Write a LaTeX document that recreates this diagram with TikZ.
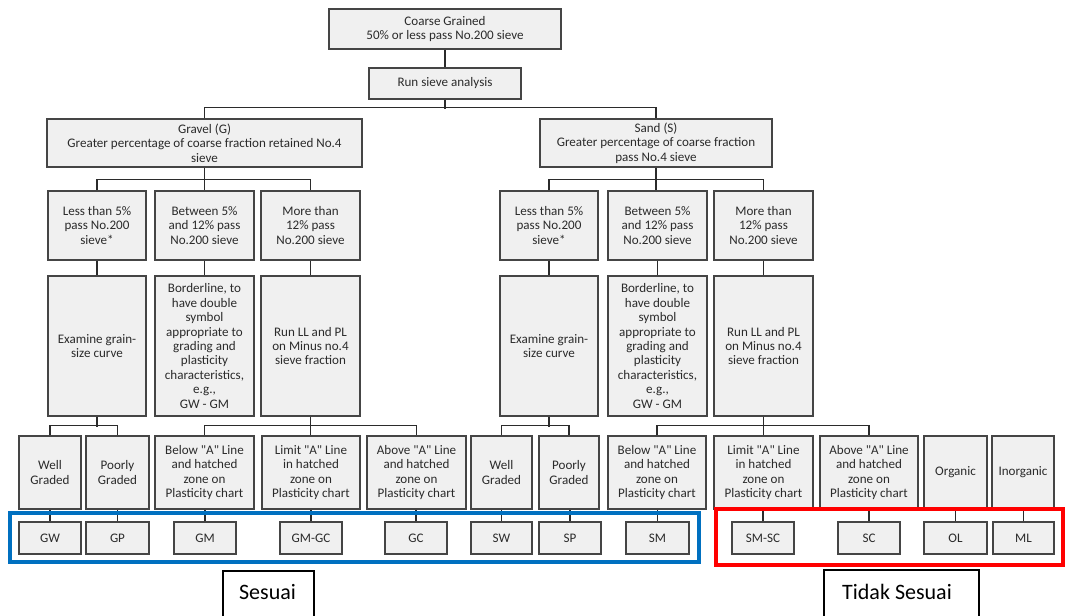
\documentclass[tikz,border=0pt]{standalone}
\usepackage{fontspec}
\setmainfont[Ligatures=TeXOff]{Carlito}
\definecolor{boxfill}{HTML}{F0F0F0}
\definecolor{boxline}{HTML}{454545}
\definecolor{txt}{HTML}{2B2B2B}
\definecolor{okblue}{HTML}{0070C0}
\definecolor{nored}{HTML}{FF0000}
\tikzset{
  box/.style={draw=boxline, fill=boxfill, line width=0.8pt, inner sep=1pt,
    align=center, text=txt, font=\fontsize{9.8}{10.8}\selectfont},
  conn/.style={draw=txt, line width=0.9pt},
  frameblue/.style={draw=okblue, line width=3pt},
  framered/.style={draw=nored, line width=3pt},
  tag/.style={font=\fontsize{16.5}{19}\selectfont, text=black, inner sep=0pt},
  tagline/.style={draw=black, line width=0.8pt}
}
\newcommand{\mybox}[6]{\node[box, minimum width={(#4-#2)*0.75pt}, minimum height={(#5-#3)*0.75pt}] (#1) at ({(#2+#4)/2},{(#3+#5)/2}) {#6};}
\begin{document}
\begin{tikzpicture}[x=0.75pt,y=-0.75pt]
\useasboundingbox[fill=white] (0,0) rectangle (1066,616);
% top
\mybox{cg}{329}{9}{561}{49}{Coarse Grained\\50\% or less pass No.200 sieve}
\mybox{rsa}{369}{68}{521}{99}{Run sieve analysis}
\mybox{gravel}{47}{119}{362}{167}{Gravel (G)\\Greater percentage of coarse fraction retained No.4\\sieve}
\mybox{sand}{540}{119}{772}{167}{Sand (S)\\Greater percentage of coarse fraction\\pass No.4 sieve}
% row 1
\mybox{lessG}{48}{191}{146}{260}{Less than 5\%\\pass No.200\\sieve*}
\mybox{betG}{155}{191}{254}{260}{Between 5\%\\and 12\% pass\\No.200 sieve}
\mybox{moreG}{261}{191}{360}{260}{More than\\12\% pass\\No.200 sieve}
\mybox{lessS}{500}{191}{598}{260}{Less than 5\%\\pass No.200\\sieve*}
\mybox{betS}{608}{191}{707}{260}{Between 5\%\\and 12\% pass\\No.200 sieve}
\mybox{moreS}{714}{191}{813}{260}{More than\\12\% pass\\No.200 sieve}
% row 2
\mybox{exG}{48}{276}{146}{416}{Examine grain-\\size curve}
\mybox{blG}{155}{276}{254}{416}{Borderline, to\\have double\\symbol\\appropriate to\\grading and\\plasticity\\characteristics,\\e.g.,\\GW - GM}
\mybox{runG}{261}{276}{360}{416}{Run LL and PL\\on Minus no.4\\sieve fraction}
\mybox{exS}{500}{276}{598}{416}{Examine grain-\\size curve}
\mybox{blS}{608}{276}{707}{416}{Borderline, to\\have double\\symbol\\appropriate to\\grading and\\plasticity\\characteristics,\\e.g.,\\GW - GM}
\mybox{runS}{714}{276}{813}{416}{Run LL and PL\\on Minus no.4\\sieve fraction}
% row 3
\mybox{wellG}{19}{436}{81}{509}{Well\\Graded}
\mybox{poorG}{86}{436}{149}{509}{Poorly\\Graded}
\mybox{belowG}{155}{436}{254}{509}{Below "A" Line\\and hatched\\zone on\\Plasticity chart}
\mybox{limitG}{262}{436}{360}{509}{Limit "A" Line\\in hatched\\zone on\\Plasticity chart}
\mybox{aboveG}{367}{436}{466}{509}{Above "A" Line\\and hatched\\zone on\\Plasticity chart}
\mybox{wellS}{471}{436}{532}{509}{Well\\Graded}
\mybox{poorS}{539}{436}{599}{509}{Poorly\\Graded}
\mybox{belowS}{608}{436}{706}{509}{Below "A" Line\\and hatched\\zone on\\Plasticity chart}
\mybox{limitS}{714}{436}{813}{509}{Limit "A" Line\\in hatched\\zone on\\Plasticity chart}
\mybox{aboveS}{820}{436}{918}{509}{Above "A" Line\\and hatched\\zone on\\Plasticity chart}
\mybox{org}{924}{436}{987}{509}{Organic}
\mybox{inorg}{992}{436}{1054}{509}{Inorganic}
% row 4
\mybox{GW}{19}{522}{81}{554}{GW}
\mybox{GP}{86}{522}{149}{554}{GP}
\mybox{GM}{174}{522}{236}{554}{GM}
\mybox{GMGC}{280}{522}{342}{554}{GM-GC}
\mybox{GC}{385}{522}{447}{554}{GC}
\mybox{SW}{471}{522}{532}{554}{SW}
\mybox{SP}{539}{522}{601}{554}{SP}
\mybox{SM}{626}{522}{689}{554}{SM}
\mybox{SMSC}{732}{522}{794}{554}{SM-SC}
\mybox{SC}{838}{522}{900}{554}{SC}
\mybox{OL}{924}{522}{987}{554}{OL}
\mybox{ML}{993}{522}{1054}{554}{ML}
% connectors top
\draw[conn] (cg.south) -- (rsa.north);
\draw[conn] (rsa.south) -- ++(0,9);
\draw[conn] (gravel.north) -- ++(0,-11) -| (sand.north);
% gravel / sand to row 1
\draw[conn] (gravel.south) -- (gravel.south |- betG.north);
\draw[conn] (lessG.north) -- ++(0,-11) -| (moreG.north);
\draw[conn] (sand.south) -- (sand.south |- betS.north);
\draw[conn] (lessS.north) -- ++(0,-11) -| (moreS.north);
% row 1 to row 2
\draw[conn] (lessG.south) -- (exG.north);
\draw[conn] (betG.south) -- (blG.north);
\draw[conn] (moreG.south) -- (runG.north);
\draw[conn] (lessS.south) -- (exS.north);
\draw[conn] (betS.south) -- (blS.north);
\draw[conn] (moreS.south) -- (runS.north);
% row 2 to row 3
\draw[conn] (exG.south) -- ++(0,10);
\draw[conn] (wellG.north) -- ++(0,-10) -| (poorG.north);
\draw[conn] (runG.south) -- (runG.south |- limitG.north);
\draw[conn] (belowG.north) -- ++(0,-10) -| (aboveG.north);
\draw[conn] (exS.south) -- ++(0,10);
\draw[conn] (wellS.north) -- ++(0,-10) -| (poorS.north);
\draw[conn] (runS.south) -- (runS.south |- limitS.north);
\draw[conn] (belowS.north) -- ++(0,-10) -| (aboveS.north);
% row 3 to row 4
\foreach \p/\c in {wellG/GW, poorG/GP, belowG/GM, limitG/GMGC, aboveG/GC, wellS/SW, poorS/SP, belowS/SM, limitS/SMSC, aboveS/SC, org/OL, inorg/ML}
  \draw[conn] (\c.north) -- (\c.north |- \p.south);
% frames
\draw[frameblue] (10,513) rectangle (699,562);
\draw[framered] (716,509) rectangle (1063,565);
% labels
\node[tag] (sesuai) at (267.5,592) {Sesuai};
\draw[tagline] (223,616) -- (223,571) -- (314,571) -- (314,616);
\node[tag] (tidak) at (897,592) {Tidak Sesuai};
\draw[tagline] (824,616) -- (824,570) -- (979,570) -- (979,616);
\end{tikzpicture}
\end{document}
